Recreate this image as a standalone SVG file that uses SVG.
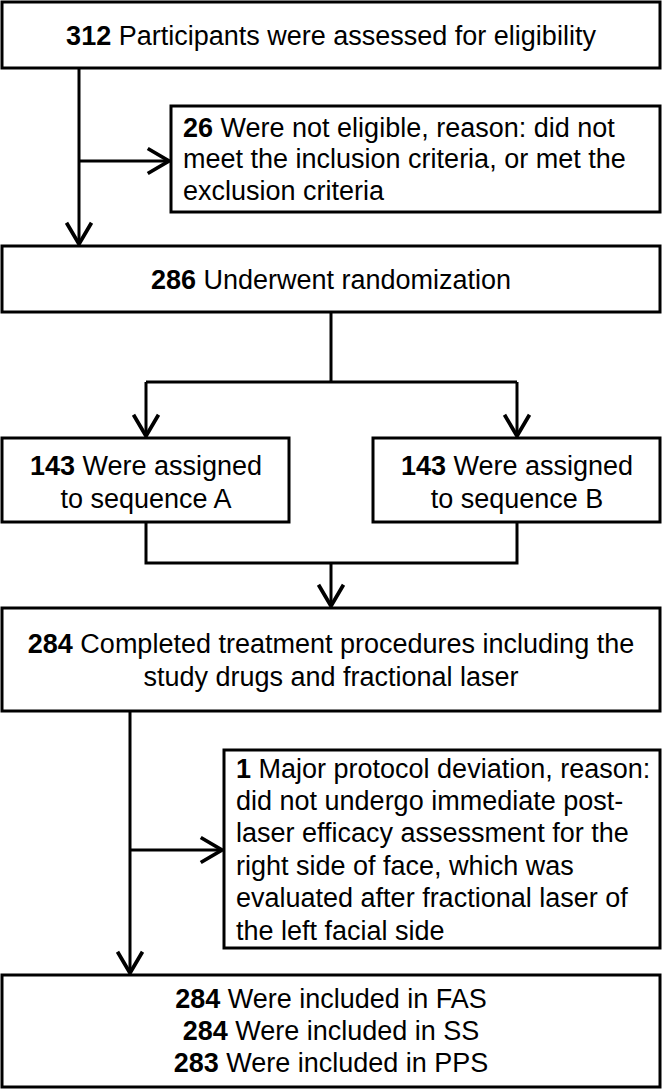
<svg xmlns="http://www.w3.org/2000/svg" width="662" height="1090" viewBox="0 0 662 1090">
<style>
.box{fill:#fff;stroke:#000;stroke-width:3}
.ln{fill:none;stroke:#000;stroke-width:3}
.t{font-family:"Liberation Sans",Arial,sans-serif;font-size:27px;fill:#000}
.c{text-anchor:middle}
.b{font-weight:bold}
</style>
<defs>
<marker id="arr" markerUnits="userSpaceOnUse" markerWidth="30" markerHeight="30" viewBox="-20 -12 22 24" refX="0" refY="0" orient="auto">
<path d="M-17,-10 L0,0 L-17,10" fill="none" stroke="#000" stroke-width="3"/>
</marker>
</defs>
<g id="connectors">
<path class="ln" d="M79,68 V244" marker-end="url(#arr)"/>
<path class="ln" d="M79,161 H169" marker-end="url(#arr)"/>
<path class="ln" d="M331,312 V382"/>
<path class="ln" d="M146,382 H517"/>
<path class="ln" d="M146,382 V436" marker-end="url(#arr)"/>
<path class="ln" d="M517,382 V436" marker-end="url(#arr)"/>
<path class="ln" d="M146,522 V563 H517 V522"/>
<path class="ln" d="M331,563 V606" marker-end="url(#arr)"/>
<path class="ln" d="M130,711 V973" marker-end="url(#arr)"/>
<path class="ln" d="M130,850 H222" marker-end="url(#arr)"/>
</g>
<g id="n1">
<rect class="box" x="2" y="2" width="658" height="66"/>
<text class="t c" x="331" y="45"><tspan class="b">312</tspan> Participants were assessed for eligibility</text>
</g>
<g id="n2">
<rect class="box" x="171" y="106" width="489" height="106"/>
<text class="t" x="183" y="137"><tspan class="b">26</tspan> Were not eligible, reason: did not</text>
<text class="t" x="183" y="168">meet the inclusion criteria, or met the</text>
<text class="t" x="183" y="200">exclusion criteria</text>
</g>
<g id="n3">
<rect class="box" x="2" y="246" width="658" height="66"/>
<text class="t c" x="331" y="289"><tspan class="b">286</tspan> Underwent randomization</text>
</g>
<g id="n4">
<rect class="box" x="2" y="438" width="287" height="84"/>
<text class="t c" x="146" y="475"><tspan class="b">143</tspan> Were assigned</text>
<text class="t c" x="146" y="508">to sequence A</text>
</g>
<g id="n5">
<rect class="box" x="373" y="438" width="287" height="84"/>
<text class="t c" x="517" y="475"><tspan class="b">143</tspan> Were assigned</text>
<text class="t c" x="517" y="508">to sequence B</text>
</g>
<g id="n6">
<rect class="box" x="2" y="608" width="658" height="103"/>
<text class="t c" x="331" y="653"><tspan class="b">284</tspan> Completed treatment procedures including the</text>
<text class="t c" x="331" y="686">study drugs and fractional laser</text>
</g>
<g id="n7">
<rect class="box" x="224" y="750" width="436" height="198"/>
<text class="t" x="236" y="778"><tspan class="b">1</tspan> Major protocol deviation, reason:</text>
<text class="t" x="236" y="810">did not undergo immediate post-</text>
<text class="t" x="236" y="842">laser efficacy assessment for the</text>
<text class="t" x="236" y="875">right side of face, which was</text>
<text class="t" x="236" y="907">evaluated after fractional laser of</text>
<text class="t" x="236" y="940">the left facial side</text>
</g>
<g id="n8">
<rect class="box" x="2" y="975" width="658" height="112"/>
<text class="t c" x="331" y="1008"><tspan class="b">284</tspan> Were included in FAS</text>
<text class="t c" x="331" y="1040"><tspan class="b">284</tspan> Were included in SS</text>
<text class="t c" x="331" y="1072"><tspan class="b">283</tspan> Were included in PPS</text>
</g>
</svg>
